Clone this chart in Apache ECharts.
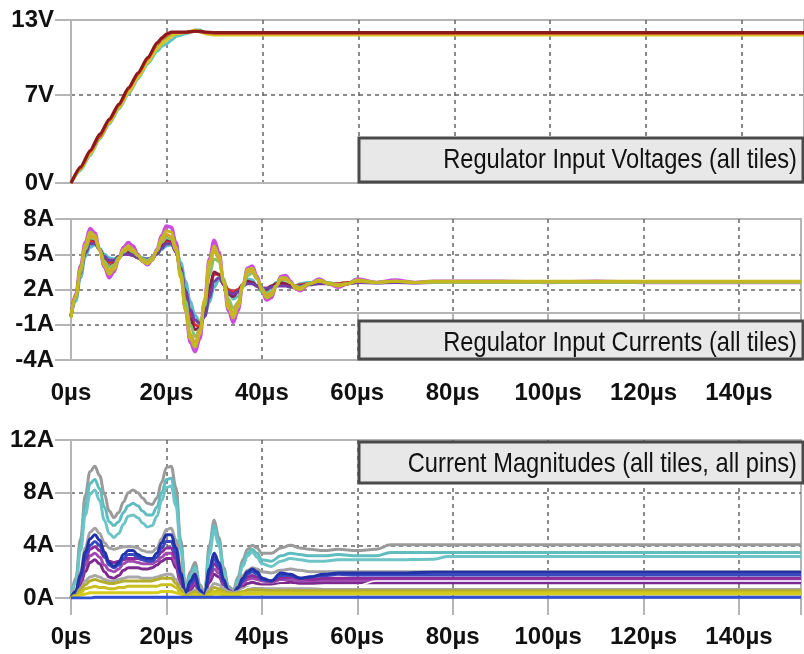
<!DOCTYPE html>
<html>
<head>
<meta charset="utf-8">
<script src="https://cdn.jsdelivr.net/npm/echarts@6/dist/echarts.min.js"></script>
<style>
    html, body { margin: 0; padding: 0; background: #fff; }
    #chart { width: 804px; height: 654px; }
</style>
</head>
<body>
<div id="chart"></div>
<script>
// time axis (µs)
const xTicks = [0, 20, 40, 60, 80, 100, 120, 140];

// panel 1: regulator input voltages
const t1 = [0, 2, 4, 6, 8, 10, 12, 14, 16, 18, 19, 20, 21, 22, 24, 26, 27, 28, 30, 35, 40, 60, 100, 153];
const vCyan = [0, 1.0, 2.2, 3.5, 4.7, 5.9, 7.1, 8.3, 9.5, 10.5, 10.9, 11.1, 11.4, 11.7, 11.9, 12.2, 12.2, 11.95, 11.85, 11.85, 11.85, 11.85, 11.85, 11.85];
const vGreen = [0, 1.1, 2.4, 3.6, 4.9, 6.1, 7.3, 8.5, 9.7, 10.8, 11.2, 11.5, 11.8, 11.95, 12.0, 12.15, 12.1, 11.95, 11.9, 11.9, 11.9, 11.9, 11.9, 11.9];
const vYellow = [0, 1.1, 2.3, 3.6, 4.8, 6.0, 7.2, 8.4, 9.6, 10.7, 11.1, 11.4, 11.7, 11.9, 12.0, 12.2, 12.1, 11.9, 11.8, 11.8, 11.8, 11.8, 11.8, 11.8];
const vRed = [0, 1.2, 2.5, 3.7, 5.0, 6.2, 7.5, 8.7, 9.9, 11.1, 11.5, 11.8, 12.0, 12.0, 12.0, 12.1, 12.05, 12.0, 11.95, 11.95, 11.95, 11.95, 11.95, 11.95];
const vDarkRed = [0, 1.3, 2.6, 3.9, 5.1, 6.3, 7.6, 8.8, 10.0, 11.2, 11.6, 11.9, 12.05, 12.05, 12.05, 12.1, 12.1, 12.05, 12.0, 12.0, 12.0, 12.0, 12.0, 12.0];

// panel 2: regulator input currents
const t2 = [0, 1, 2, 3, 4, 5, 6, 7, 8, 9, 10, 11, 12, 13, 14, 15, 16, 17, 18, 19, 20, 21, 22, 23, 24,
    25, 26, 27, 28, 29, 30, 31, 32, 33, 34, 35, 36, 37, 38, 39, 40, 41, 42, 43, 44, 45, 46, 47, 48,
    50, 52, 54, 56, 58, 60, 64, 68, 72, 76, 80, 90, 100, 110, 120, 130, 140, 153];
const iMagenta = [-0.3, 1.6, 4.0, 6.0, 7.2, 6.8, 5.4, 3.9, 3.0, 3.5, 4.6, 5.6, 6.0, 5.7, 5.0, 4.4, 4.1, 4.5, 5.4, 6.6,
    7.4, 7.3, 6.0, 3.6, 0.3, -2.5, -3.3, -2.2, 1.0, 4.6, 6.2, 5.2, 2.6, 0.2, -0.8, 0.2, 2.3, 3.8, 4.0, 3.1,
    1.9, 1.1, 1.3, 2.3, 3.1, 3.2, 2.7, 2.1, 1.9,
    2.5, 2.9, 2.5, 2.2, 2.5, 2.9, 2.6, 2.8, 2.6, 2.7, 2.7, 2.7, 2.6, 2.7, 2.6, 2.6, 2.6, 2.6];
const iTeal = [-0.3, 1.0, 3.0, 4.8, 5.6, 5.8, 5.5, 5.0, 4.7, 4.6, 4.8, 5.0, 5.1, 5.0, 4.8, 4.7, 4.6, 4.7, 5.0, 5.4,
    5.7, 5.8, 5.4, 4.3, 2.7, 1.0, -0.2, -0.7, -0.3, 0.9, 2.2, 2.8, 2.6, 1.8, 1.2, 1.4, 2.3, 2.9, 2.8, 2.3,
    1.8, 1.8, 2.2, 2.6, 2.7, 2.5, 2.3, 2.3, 2.5,
    2.6, 2.6, 2.5, 2.5, 2.6, 2.7, 2.6, 2.6, 2.6, 2.6, 2.6, 2.6, 2.6, 2.6, 2.6, 2.6, 2.6, 2.6];
const iRed = [-0.3, 1.4, 3.6, 5.3, 6.1, 6.0, 5.4, 4.7, 4.3, 4.4, 4.8, 5.0, 5.0, 4.9, 4.7, 4.6, 4.5, 4.7, 5.1, 5.7,
    6.1, 6.0, 5.2, 3.6, 1.6, 0.0, -1.0, -1.2, -0.2, 1.8, 3.3, 3.3, 2.6, 2.0, 1.8, 2.0, 2.4, 2.6, 2.5, 2.3,
    2.1, 2.1, 2.3, 2.4, 2.5, 2.4, 2.3, 2.3, 2.4,
    2.5, 2.6, 2.5, 2.5, 2.6, 2.6, 2.6, 2.6, 2.6, 2.6, 2.6, 2.6, 2.6, 2.6, 2.6, 2.6, 2.6, 2.6];
const iMaroon = [-0.3, 1.5, 3.7, 5.5, 6.4, 6.2, 5.4, 4.5, 4.0, 4.2, 4.7, 5.1, 5.2, 5.0, 4.7, 4.5, 4.4, 4.6, 5.1, 5.8,
    6.3, 6.2, 5.3, 3.4, 1.2, -0.5, -1.4, -1.3, 0.2, 2.2, 3.5, 3.3, 2.4, 1.6, 1.4, 1.8, 2.4, 2.7, 2.6, 2.3,
    2.0, 2.0, 2.3, 2.5, 2.6, 2.5, 2.3, 2.2, 2.3,
    2.5, 2.6, 2.5, 2.4, 2.5, 2.6, 2.6, 2.6, 2.6, 2.6, 2.6, 2.6, 2.6, 2.6, 2.6, 2.6, 2.6, 2.6];
const iPurple = [-0.3, 1.3, 3.4, 5.1, 5.9, 5.9, 5.4, 4.8, 4.5, 4.5, 4.8, 5.0, 5.0, 4.9, 4.7, 4.6, 4.6, 4.7, 5.0, 5.5,
    5.9, 5.9, 5.2, 3.8, 1.9, 0.3, -0.6, -0.9, -0.3, 1.3, 2.7, 3.0, 2.5, 1.8, 1.6, 1.8, 2.3, 2.5, 2.5, 2.3,
    2.1, 2.1, 2.2, 2.3, 2.3, 2.3, 2.2, 2.2, 2.3,
    2.4, 2.5, 2.5, 2.4, 2.5, 2.6, 2.55, 2.6, 2.55, 2.6, 2.6, 2.6, 2.6, 2.6, 2.6, 2.6, 2.6, 2.6];
const iGreen = [-0.3, 1.3, 3.5, 5.4, 6.4, 6.3, 5.4, 4.4, 3.9, 4.1, 4.7, 5.2, 5.4, 5.2, 4.9, 4.6, 4.5, 4.7, 5.3, 6.0,
    6.4, 6.3, 5.4, 3.5, 1.0, -1.0, -2.0, -1.4, 0.6, 3.2, 4.6, 4.4, 2.9, 1.2, 0.4, 0.9, 2.2, 3.2, 3.4, 2.9,
    2.1, 1.6, 1.8, 2.3, 2.8, 2.8, 2.6, 2.3, 2.2,
    2.5, 2.7, 2.6, 2.4, 2.5, 2.7, 2.6, 2.7, 2.6, 2.6, 2.6, 2.6, 2.6, 2.6, 2.6, 2.6, 2.6, 2.6];
const iGold = [-0.2, 1.5, 3.7, 5.6, 6.6, 6.4, 5.3, 4.1, 3.6, 3.9, 4.6, 5.3, 5.5, 5.3, 4.9, 4.5, 4.3, 4.6, 5.3, 6.2,
    6.7, 6.5, 5.3, 3.0, 0.3, -1.8, -2.5, -1.5, 1.0, 4.0, 5.3, 4.6, 2.7, 0.7, 0.0, 0.8, 2.4, 3.5, 3.6, 2.9,
    2.0, 1.5, 1.7, 2.3, 2.9, 2.9, 2.6, 2.2, 2.1,
    2.5, 2.7, 2.5, 2.4, 2.5, 2.7, 2.6, 2.7, 2.6, 2.65, 2.65, 2.65, 2.65, 2.65, 2.65, 2.65, 2.65, 2.65];
const iYellow = [-0.4, 1.4, 3.8, 5.8, 6.9, 6.6, 5.4, 4.0, 3.3, 3.7, 4.6, 5.4, 5.7, 5.4, 4.9, 4.4, 4.2, 4.5, 5.3, 6.4,
    7.0, 6.9, 5.6, 3.2, 0.2, -2.2, -2.9, -1.8, 1.1, 4.4, 5.7, 4.9, 2.6, 0.4, -0.4, 0.5, 2.4, 3.7, 3.8, 3.0,
    1.9, 1.3, 1.5, 2.3, 3.0, 3.0, 2.6, 2.1, 2.0,
    2.5, 2.8, 2.5, 2.3, 2.5, 2.8, 2.6, 2.7, 2.6, 2.7, 2.7, 2.7, 2.7, 2.7, 2.7, 2.7, 2.7, 2.7];

// panel 3: current magnitudes
const t3 = [0, 1, 2, 3, 4, 5, 6, 7, 8, 9, 10, 11, 12, 13, 14, 15, 16, 17, 18, 19, 20,
    21, 22, 23, 24, 25, 26, 27, 28, 29, 30, 31, 32, 33, 34, 35, 36, 37, 38, 39, 40,
    42, 44, 46, 48, 50, 53, 56, 60, 64, 67, 76, 79, 153];
const mGreyTop = [0, 1.5, 4.5, 7.8, 9.6, 10.0, 9.3, 7.9, 6.6, 6.1, 6.5, 7.3, 8.0, 8.2, 8.0, 7.6, 7.2, 7.1, 7.6, 8.8,
    9.9, 10.0, 8.4, 4.4, 0.8, 2.0, 2.7, 1.0, 0.4, 4.0, 5.9, 4.6, 2.3, 0.9, 0.6, 1.6, 2.9, 3.7, 4.0, 3.8, 3.4,
    3.4, 3.8, 4.0, 3.8, 3.7, 3.6, 3.7, 3.6, 3.7, 4.05, 4.05, 4.05, 4.05];
const mCyanA = [0, 1.3, 4.0, 7.0, 8.7, 9.0, 8.3, 6.9, 5.8, 5.5, 5.8, 6.5, 7.0, 7.2, 7.0, 6.6, 6.3, 6.3, 6.9, 8.0,
    9.0, 9.1, 7.6, 4.0, 0.7, 1.7, 2.4, 0.9, 0.3, 3.6, 5.5, 4.3, 2.1, 0.8, 0.5, 1.4, 2.6, 3.4, 3.7, 3.4, 2.9,
    2.8, 3.2, 3.4, 3.3, 3.2, 3.2, 3.3, 3.2, 3.2, 3.45, 3.45, 3.45, 3.45];
const mCyanB = [0, 1.1, 3.6, 6.3, 7.9, 8.2, 7.4, 5.9, 4.9, 4.6, 4.9, 5.6, 6.2, 6.3, 6.1, 5.7, 5.4, 5.5, 6.2, 7.4,
    8.4, 8.5, 7.0, 3.7, 0.6, 1.6, 2.2, 0.8, 0.3, 3.3, 5.1, 4.0, 2.0, 0.7, 0.5, 1.3, 2.4, 3.2, 3.5, 3.1, 2.6,
    2.4, 2.8, 3.0, 2.9, 2.8, 2.8, 2.9, 2.9, 2.9, 2.9, 2.95, 3.15, 3.15];
const mGrey2 = [0, 0.6, 2.0, 3.8, 5.0, 5.3, 4.9, 4.2, 3.8, 3.7, 3.8, 3.9, 3.9, 3.9, 3.8, 3.6, 3.5, 3.5, 3.8, 4.5,
    5.2, 5.3, 4.4, 2.3, 0.5, 1.3, 1.9, 0.8, 0.3, 2.2, 3.3, 2.7, 1.5, 0.7, 0.5, 1.0, 1.7, 2.1, 2.3, 2.2, 2.0,
    1.9, 2.1, 2.2, 2.1, 2.0, 2.0, 2.0, 2.0, 2.0, 2.0, 2.0, 2.0, 2.0];
const mPurple3 = [0, 0.3, 1.0, 2.0, 2.7, 2.9, 2.6, 2.0, 1.6, 1.5, 1.7, 2.1, 2.3, 2.3, 2.3, 2.2, 2.2, 2.3, 2.5, 2.8,
    3.0, 3.0, 2.3, 1.1, 0.2, 0.6, 1.0, 0.4, 0.1, 1.2, 1.8, 1.6, 1.0, 0.5, 0.3, 0.6, 0.9, 1.1, 1.2, 1.1, 1.0,
    1.0, 1.1, 1.2, 1.1, 1.1, 1.15, 1.15, 1.15, 1.15, 1.15, 1.15, 1.15, 1.15];
const mPurple2 = [0, 0.3, 1.3, 2.5, 3.2, 3.4, 3.1, 2.5, 2.1, 2.0, 2.2, 2.6, 2.8, 2.8, 2.7, 2.6, 2.6, 2.6, 2.8, 3.1,
    3.4, 3.4, 2.6, 1.3, 0.3, 0.8, 1.2, 0.4, 0.2, 1.5, 2.2, 1.9, 1.1, 0.5, 0.3, 0.7, 1.1, 1.4, 1.5, 1.4, 1.3,
    1.2, 1.4, 1.4, 1.3, 1.3, 1.35, 1.35, 1.35, 1.35, 1.35, 1.35, 1.35, 1.35];
const mPurple1 = [0, 0.4, 1.5, 2.9, 3.7, 3.9, 3.6, 3.1, 2.8, 2.7, 2.8, 2.9, 3.0, 3.0, 3.0, 2.9, 2.9, 2.9, 3.1, 3.5,
    3.8, 3.8, 3.0, 1.5, 0.3, 0.9, 1.4, 0.5, 0.2, 1.7, 2.6, 2.2, 1.2, 0.6, 0.4, 0.8, 1.3, 1.6, 1.7, 1.6, 1.4,
    1.3, 1.5, 1.6, 1.5, 1.4, 1.5, 1.5, 1.5, 1.5, 1.5, 1.5, 1.5, 1.5];
const mBlue2 = [0, 0.4, 1.6, 3.1, 4.0, 4.3, 4.0, 3.2, 2.5, 2.3, 2.5, 3.0, 3.3, 3.3, 3.1, 2.9, 2.8, 2.8, 3.1, 3.8,
    4.3, 4.3, 3.4, 1.7, 0.3, 1.1, 1.5, 0.5, 0.2, 1.9, 3.0, 2.4, 1.2, 0.5, 0.3, 0.7, 1.3, 1.8, 2.0, 1.8, 1.4,
    1.3, 1.7, 1.7, 1.5, 1.6, 1.7, 1.8, 1.75, 1.75, 1.75, 1.75, 1.75, 1.75];
const mBlue1 = [0, 0.5, 1.8, 3.5, 4.5, 4.8, 4.4, 3.5, 2.7, 2.4, 2.7, 3.3, 3.6, 3.6, 3.3, 3.1, 3.0, 3.0, 3.4, 4.2,
    4.8, 4.8, 3.8, 1.9, 0.3, 1.3, 1.8, 0.6, 0.2, 2.2, 3.4, 2.7, 1.4, 0.5, 0.3, 0.8, 1.5, 2.0, 2.2, 2.0, 1.5,
    1.3, 1.9, 1.8, 1.5, 1.6, 1.8, 1.9, 1.9, 1.9, 1.9, 1.95, 1.95, 1.95];
const mGrey3 = [0, 0.2, 0.7, 1.3, 1.6, 1.7, 1.6, 1.4, 1.3, 1.3, 1.4, 1.5, 1.6, 1.6, 1.6, 1.5, 1.5, 1.5, 1.6, 1.7,
    1.8, 1.8, 1.4, 0.7, 0.2, 0.4, 0.6, 0.3, 0.1, 0.7, 1.1, 1.0, 0.7, 0.5, 0.4, 0.5, 0.7, 0.8, 0.8, 0.8, 0.7,
    0.7, 0.7, 0.7, 0.7, 0.7, 0.65, 0.65, 0.65, 0.65, 0.65, 0.65, 0.65, 0.65];
const mWhite = [0, 0.1, 0.5, 0.8, 1.0, 1.0, 1.0, 0.9, 0.9, 0.9, 0.9, 1.0, 1.0, 1.0, 1.0, 1.0, 1.0, 1.0, 1.0, 1.1,
    1.1, 1.1, 0.9, 0.5, 0.1, 0.2, 0.4, 0.2, 0.1, 0.5, 0.8, 0.7, 0.5, 0.4, 0.3, 0.4, 0.6, 0.8, 0.9, 0.9, 0.9,
    0.9, 1.0, 1.0, 0.95, 0.95, 0.95, 0.95, 0.95, 1.3, 1.3, 1.3, 1.3, 1.3];
const mOlive1 = [0, 0.2, 0.6, 1.0, 1.3, 1.4, 1.3, 1.2, 1.1, 1.1, 1.2, 1.3, 1.3, 1.3, 1.3, 1.3, 1.3, 1.3, 1.4, 1.5,
    1.5, 1.5, 1.1, 0.6, 0.1, 0.3, 0.5, 0.2, 0.1, 0.5, 0.8, 0.7, 0.5, 0.4, 0.3, 0.4, 0.5, 0.6, 0.6, 0.6, 0.6,
    0.55, 0.55, 0.55, 0.55, 0.55, 0.55, 0.55, 0.55, 0.55, 0.55, 0.55, 0.55, 0.55];
const mOlive2 = [0, 0.1, 0.4, 0.7, 0.8, 0.9, 0.8, 0.8, 0.7, 0.7, 0.8, 0.8, 0.9, 0.9, 0.9, 0.9, 0.9, 0.9, 0.9, 1.0,
    1.0, 1.0, 0.8, 0.4, 0.1, 0.2, 0.3, 0.2, 0.1, 0.3, 0.5, 0.5, 0.4, 0.3, 0.3, 0.3, 0.4, 0.4, 0.4, 0.4, 0.4,
    0.4, 0.4, 0.4, 0.4, 0.4, 0.4, 0.4, 0.4, 0.42, 0.42, 0.42, 0.42, 0.42];
const mYellow = [0, 0.1, 0.2, 0.3, 0.4, 0.4, 0.4, 0.4, 0.4, 0.4, 0.4, 0.4, 0.4, 0.4, 0.4, 0.4, 0.4, 0.4, 0.4, 0.5,
    0.5, 0.5, 0.4, 0.3, 0.1, 0.1, 0.2, 0.1, 0.0, 0.2, 0.3, 0.3, 0.2, 0.2, 0.2, 0.2, 0.3, 0.3, 0.3, 0.3, 0.3,
    0.3, 0.3, 0.3, 0.3, 0.3, 0.3, 0.3, 0.3, 0.3, 0.3, 0.3, 0.3, 0.3];
const mBlueBase = [0, 0, 0, 0, 0, 0.05, 0.05, 0.05, 0.05, 0.05, 0.05, 0.05, 0.05, 0.05, 0.05, 0.05, 0.05, 0.05, 0.05, 0.05,
    0.05, 0.05, 0.05, 0.05, 0.05, 0.05, 0.05, 0.05, 0.05, 0.05, 0.05, 0.05, 0.05, 0.05, 0.05, 0.05, 0.05, 0.05, 0.05, 0.05, 0.05,
    0.05, 0.05, 0.05, 0.05, 0.05, 0.05, 0.05, 0.05, 0.05, 0.05, 0.05, 0.05, 0.05];

const labelFont = "'Liberation Sans', Arial, sans-serif";
const gridColor = '#b5b5b5';

function pairs(t, v) {
    return t.map((x, i) => [x, v[i]]);
}

function line(name, grid, t, v, color, width, smooth) {
    return {
        name: name,
        type: 'line',
        xAxisIndex: grid,
        yAxisIndex: grid,
        data: pairs(t, v),
        showSymbol: false,
        smooth: smooth,
        smoothMonotone: 'x',
        lineStyle: {color: color, width: width},
        itemStyle: {color: color}
    };
}

function xAxis(grid, showLabels, margin, tickLen) {
    return {
        type: 'value',
        gridIndex: grid,
        min: 0,
        max: 153,
        interval: 20,
        axisLine: {show: true, lineStyle: {color: gridColor, width: 2}},
        axisTick: {show: showLabels, length: tickLen, lineStyle: {color: gridColor, width: 2}},
        axisLabel: {
            show: showLabels,
            margin: margin,
            color: '#111',
            fontSize: 24,
            fontWeight: 'bold',
            fontFamily: labelFont,
            formatter: v => xTicks.indexOf(v) >= 0 ? v + 'µs' : ''
        },
        splitLine: {
            show: true,
            showMinLine: false,
            showMaxLine: false,
            lineStyle: {color: '#666', type: [4, 4], width: 1.5}
        }
    };
}

function yAxis(grid, min, max, interval, unit) {
    return {
        type: 'value',
        gridIndex: grid,
        min: min,
        max: max,
        interval: interval,
        axisLine: {show: true, lineStyle: {color: gridColor, width: 2}},
        axisTick: {show: true, length: 16, lineStyle: {color: gridColor, width: 2}},
        axisLabel: {
            margin: 17,
            color: '#111',
            fontSize: 24,
            fontWeight: 'bold',
            fontFamily: labelFont,
            formatter: v => v + unit
        },
        splitLine: {
            show: true,
            showMinLine: false,
            showMaxLine: false,
            lineStyle: {color: '#666', type: [4, 4], width: 1.5}
        }
    };
}

// grey caption box; text drawn at 28px and squeezed to look condensed
function labelBox(y, h, textY, text) {
    return [
        {
            type: 'rect',
            z: 100,
            shape: {x: 359, y: y, width: 444, height: h},
            style: {fill: '#e8e8e8', stroke: '#4a4a4a', lineWidth: 3}
        },
        {
            type: 'text',
            z: 101,
            x: 797,
            y: textY,
            scaleX: 0.845,
            style: {
                text: text,
                fill: '#111',
                fontSize: 28,
                fontFamily: labelFont,
                align: 'right',
                verticalAlign: 'middle'
            }
        }
    ];
}

const chart = echarts.init(document.getElementById('chart'));

const option = {
    animation: false,
    backgroundColor: '#fff',
    grid: [
        {left: 71, top: 20, right: -2, height: 163, show: true, borderColor: gridColor, borderWidth: 2},
        {left: 71, top: 219, right: -2, height: 141, show: true, borderColor: gridColor, borderWidth: 2},
        {left: 71, top: 440, right: -2, height: 158, show: true, borderColor: gridColor, borderWidth: 2}
    ],
    xAxis: [
        xAxis(0, false, 20, 14),
        xAxis(1, true, 21, 14),
        xAxis(2, true, 27, 17)
    ],
    yAxis: [
        yAxis(0, 0, 13, 7, 'V'),
        yAxis(1, -4, 8, 3, 'A'),
        yAxis(2, 0, 12, 4, 'A')
    ],
    series: [
        line('v cyan', 0, t1, vCyan, '#5cc4c4', 3, 0.2),
        line('v green', 0, t1, vGreen, '#86b848', 3, 0.2),
        line('v yellow', 0, t1, vYellow, '#d8c224', 3, 0.2),
        line('v red', 0, t1, vRed, '#d03a2c', 3, 0.2),
        line('v dark red', 0, t1, vDarkRed, '#8a1a1a', 3, 0.2),

        line('i magenta', 1, t2, iMagenta, '#cc4ee0', 3.5, 0.4),
        line('i teal', 1, t2, iTeal, '#5cbcc8', 3, 0.4),
        line('i red', 1, t2, iRed, '#d8302c', 3, 0.4),
        line('i maroon', 1, t2, iMaroon, '#8c1c48', 3, 0.4),
        line('i purple', 1, t2, iPurple, '#7040a8', 3, 0.4),
        line('i green', 1, t2, iGreen, '#8cc070', 3, 0.4),
        line('i gold', 1, t2, iGold, '#d4a82a', 3, 0.4),
        line('i yellow', 1, t2, iYellow, '#c2b820', 3, 0.4),

        line('m grey top', 2, t3, mGreyTop, '#9a9a9a', 3, 0.4),
        line('m cyan a', 2, t3, mCyanA, '#5fbcbf', 3, 0.4),
        line('m cyan b', 2, t3, mCyanB, '#6cc4c6', 3, 0.4),
        line('m grey 2', 2, t3, mGrey2, '#a2a2a2', 3, 0.4),
        line('m purple 3', 2, t3, mPurple3, '#7c2a8e', 3, 0.4),
        line('m purple 2', 2, t3, mPurple2, '#a04ab0', 3, 0.4),
        line('m purple 1', 2, t3, mPurple1, '#8e2c9c', 3, 0.4),
        line('m blue 2', 2, t3, mBlue2, '#3a48c0', 3, 0.4),
        line('m blue 1', 2, t3, mBlue1, '#2232a8', 3, 0.4),
        line('m grey 3', 2, t3, mGrey3, '#a8a8a8', 3, 0.4),
        line('m white', 2, t3, mWhite, '#ffffff', 1.5, 0.4),
        line('m olive 1', 2, t3, mOlive1, '#b5ae2a', 3, 0.4),
        line('m olive 2', 2, t3, mOlive2, '#c9c020', 3, 0.4),
        line('m yellow', 2, t3, mYellow, '#d6cc1c', 3, 0.4),
        line('m blue base', 2, t3, mBlueBase, '#3050d8', 3, 0.4)
    ],
    graphic: [].concat(
        labelBox(138, 44, 160, 'Regulator Input Voltages (all tiles)'),
        labelBox(321, 38, 343, 'Regulator Input Currents (all tiles)'),
        labelBox(442, 41, 464, 'Current Magnitudes (all tiles, all pins)')
    )
};

chart.setOption(option);
</script>
</body>
</html>
